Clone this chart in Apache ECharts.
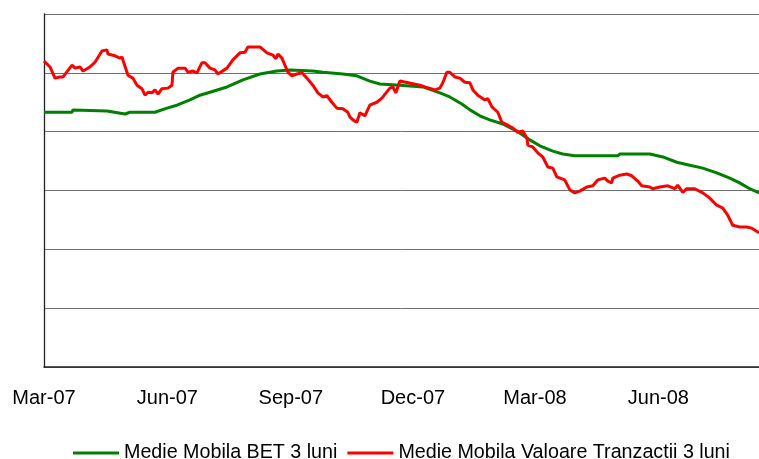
<!DOCTYPE html>
<html>
<head>
<meta charset="utf-8">
<script src="https://cdn.jsdelivr.net/npm/echarts@6/dist/echarts.min.js"></script>
<style>
html,body{margin:0;padding:0;background:#fff;}
#chart{width:759px;height:459px;}
</style>
</head>
<body>
<div id="chart"></div>
<script>
// x values are days since 2007-03-01
const tickDays = [0, 92, 184, 275, 366, 458];
const tickLabels = ['Mar-07', 'Jun-07', 'Sep-07', 'Dec-07', 'Mar-08', 'Jun-08'];
const seriesNames = ['Medie Mobila BET 3 luni', 'Medie Mobila Valoare Tranzactii 3 luni'];

const betDays = [0, 20.9, 21.6, 46.9, 60.4, 64.1, 82.7, 91.7, 99.1, 108.8, 116.2, 123.7, 136.4, 148.3, 161.0, 173.6, 183.3, 200.4, 207.9, 222.8, 233.2, 242.9, 250.4, 265.3, 282.4, 295.1, 302.5, 311.5, 317.5, 324.9, 332.3, 342.0, 352.5, 362.2, 369.6, 379.3, 386.7, 395.7, 427.7, 429.2, 451.6, 461.3, 471.7, 481.4, 491.1, 501.5, 511.2, 518.6, 526.1, 533];
const betValues = [4.33, 4.33, 4.37, 4.35, 4.30, 4.33, 4.33, 4.40, 4.45, 4.54, 4.62, 4.67, 4.76, 4.88, 4.98, 5.03, 5.05, 5.03, 5.01, 4.98, 4.95, 4.86, 4.81, 4.79, 4.76, 4.66, 4.59, 4.47, 4.37, 4.27, 4.20, 4.13, 4.01, 3.86, 3.76, 3.67, 3.62, 3.59, 3.59, 3.62, 3.62, 3.57, 3.48, 3.43, 3.38, 3.30, 3.21, 3.13, 3.03, 2.96];

const valDays = [0, 4.5, 8.2, 11.9, 14.2, 15.6, 20.9, 23.1, 26.8, 29.1, 34.3, 38.0, 43.2, 46.9, 47.7, 52.9, 56.6, 58.1, 62.6, 66.3, 69.3, 73.0, 75.3, 77.5, 80.5, 82.7, 85.0, 87.9, 92.4, 95.4, 96.1, 99.9, 105.1, 107.3, 111.0, 114.0, 117.7, 120.0, 123.7, 127.4, 129.7, 136.4, 140.8, 146.1, 149.8, 152.0, 161.0, 166.2, 170.7, 172.9, 174.4, 177.4, 181.8, 184.8, 188.5, 192.3, 196.0, 200.4, 204.2, 207.9, 210.9, 214.6, 218.3, 222.8, 226.5, 228.0, 230.3, 233.2, 235.5, 239.2, 242.9, 248.1, 251.9, 257.8, 260.1, 262.3, 265.3, 280.2, 283.9, 291.4, 295.1, 297.3, 300.3, 302.5, 306.3, 310.0, 313.7, 317.5, 319.7, 323.4, 328.6, 330.9, 333.9, 338.3, 341.3, 345.8, 349.5, 353.2, 357.0, 360.0, 360.7, 364.4, 368.1, 371.8, 375.6, 379.3, 382.3, 388.2, 392.0, 395.7, 399.4, 404.6, 409.1, 412.8, 418.0, 420.3, 423.2, 424.0, 429.2, 434.4, 438.2, 442.6, 445.6, 451.6, 453.8, 459.0, 465.0, 470.2, 472.4, 476.2, 479.1, 485.1, 491.1, 496.3, 501.5, 506.0, 509.7, 513.4, 518.6, 523.8, 527.6, 533];
const valValues = [5.20, 5.10, 4.91, 4.93, 4.93, 4.91, 5.13, 5.08, 5.10, 5.03, 5.10, 5.18, 5.37, 5.39, 5.32, 5.29, 5.25, 5.27, 4.96, 4.91, 4.79, 4.73, 4.62, 4.67, 4.66, 4.71, 4.64, 4.73, 4.74, 4.79, 5.01, 5.08, 5.08, 5.01, 5.03, 5.00, 5.17, 5.17, 5.08, 5.05, 4.98, 5.08, 5.22, 5.34, 5.35, 5.44, 5.44, 5.34, 5.30, 5.24, 5.32, 5.25, 5.01, 4.95, 4.98, 5.00, 4.91, 4.79, 4.66, 4.59, 4.61, 4.50, 4.40, 4.39, 4.33, 4.25, 4.20, 4.16, 4.32, 4.27, 4.45, 4.50, 4.57, 4.74, 4.76, 4.66, 4.86, 4.79, 4.76, 4.71, 4.74, 4.83, 5.01, 5.01, 4.93, 4.91, 4.84, 4.83, 4.71, 4.62, 4.54, 4.56, 4.42, 4.33, 4.16, 4.11, 4.06, 3.99, 4.01, 3.89, 3.77, 3.74, 3.64, 3.57, 3.40, 3.38, 3.23, 3.18, 3.01, 2.96, 2.99, 3.06, 3.08, 3.18, 3.21, 3.16, 3.13, 3.21, 3.26, 3.28, 3.25, 3.16, 3.08, 3.06, 3.03, 3.06, 3.08, 3.03, 3.09, 2.97, 3.03, 3.03, 2.96, 2.87, 2.75, 2.70, 2.58, 2.41, 2.38, 2.38, 2.36, 2.28];

const zip = (xs, ys) => xs.map((x, i) => [x, ys[i]]);
const FONT = "'Liberation Sans', Arial, sans-serif";

const chart = echarts.init(document.getElementById('chart'), null, {renderer: 'canvas'});
chart.setOption({
  animation: false,
  backgroundColor: '#fff',
  grid: {left: 44, top: 14, right: 0, bottom: 92, containLabel: false},
  xAxis: {
    type: 'value',
    min: 0,
    max: 533,
    axisLine: {show: true, lineStyle: {color: '#222', width: 1.5}},
    axisTick: {show: false},
    splitLine: {show: false},
    axisLabel: {
      customValues: tickDays,
      margin: 21,
      color: '#000',
      fontSize: 20,
      fontFamily: FONT,
      formatter: v => { const i = tickDays.indexOf(v); return i >= 0 ? tickLabels[i] : ''; }
    }
  },
  yAxis: {
    type: 'value',
    min: 0,
    max: 6,
    interval: 1,
    axisLine: {show: true, lineStyle: {color: '#222', width: 1.3}},
    axisTick: {show: false},
    axisLabel: {show: false},
    splitLine: {show: true, lineStyle: {color: '#707070', width: 1}}
  },
  legend: {
    left: 73,
    top: 443,
    padding: 0,
    itemGap: 10,
    itemWidth: 46,
    itemHeight: 3,
    icon: 'rect',
    textStyle: {color: '#000', fontSize: 19.7, fontFamily: FONT},
    data: seriesNames
  },
  series: [
    {
      name: seriesNames[0],
      type: 'line',
      data: zip(betDays, betValues),
      showSymbol: false,
      symbol: 'none',
      color: '#008000',
      lineStyle: {color: '#008000', width: 3}
    },
    {
      name: seriesNames[1],
      type: 'line',
      data: zip(valDays, valValues),
      showSymbol: false,
      symbol: 'none',
      color: '#ff0000',
      lineStyle: {color: '#ff0000', width: 3}
    }
  ]
});
</script>
</body>
</html>
